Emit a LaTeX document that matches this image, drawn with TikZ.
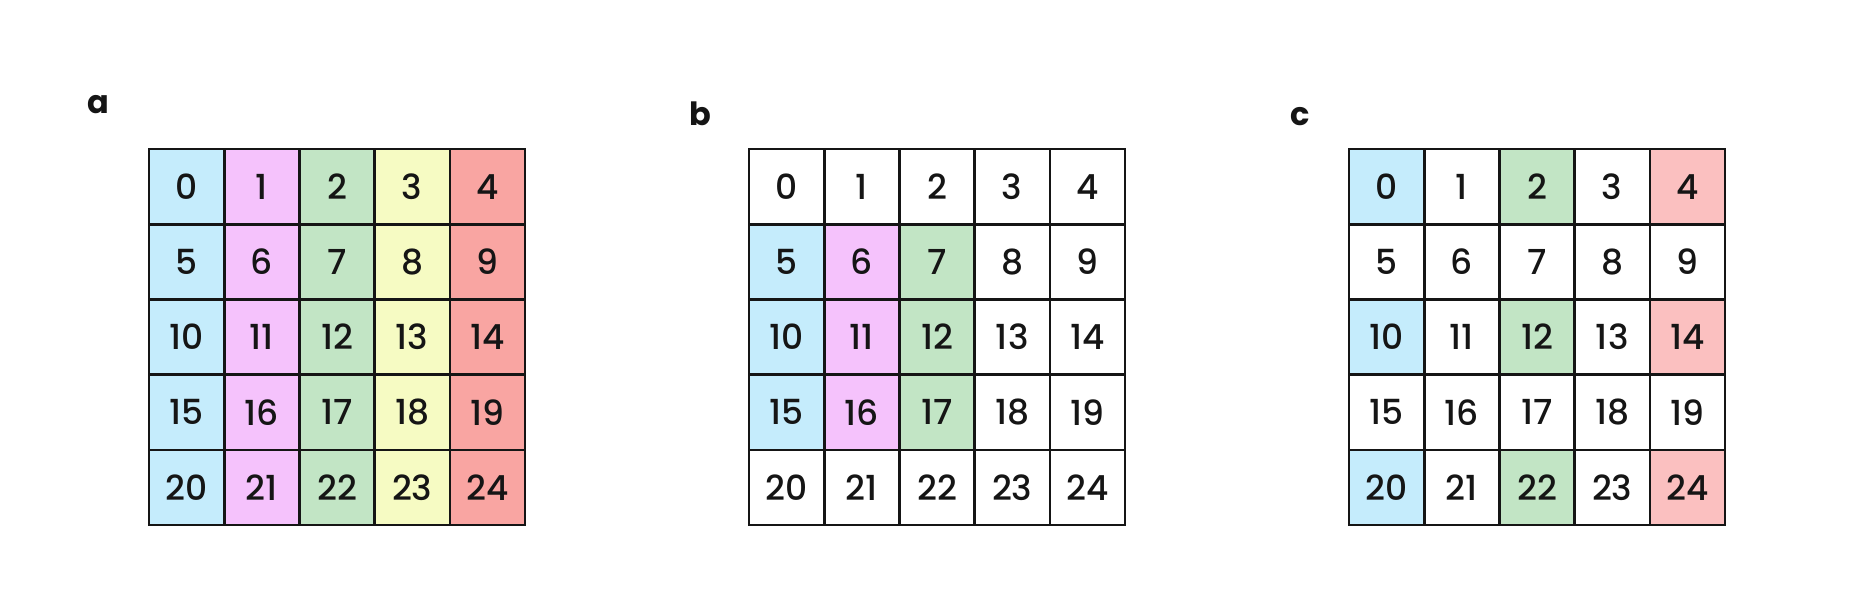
\documentclass[tikz,border=0pt]{standalone}
\usepackage{fontspec}
\setmainfont{Poppins}[UprightFont=* Medium, BoldFont=* Bold]
\definecolor{cblue}{HTML}{C5ECFC}
\definecolor{cpink}{HTML}{F5C2FC}
\definecolor{cgreen}{HTML}{C2E5C5}
\definecolor{cyellow}{HTML}{F6FBC3}
\definecolor{cred}{HTML}{F9A5A2}
\definecolor{cred2}{HTML}{FBC0C0}
\definecolor{ink}{HTML}{151515}
\begin{document}
\begin{tikzpicture}[x=1pt,y=-1pt,
  cell/.style={draw=ink, line width=2.6pt, minimum size=75.2pt, inner sep=0pt,
    font=\fontsize{34.5}{34.5}\selectfont, text=ink, anchor=center},
  lab/.style={font=\fontsize{32}{32}\selectfont\bfseries, text=ink, anchor=base}]
\useasboundingbox (0,0) rectangle (1875,605);
\foreach \row in {0,...,4}{
  \foreach \col in {0,...,4}{
    \pgfmathtruncatemacro\n{5*\row+\col}
    \edef\fa{\ifcase\col cblue\or cpink\or cgreen\or cyellow\or cred\fi}
    \edef\fb{\ifnum\row>0 \ifnum\row<4 \ifnum\col<3 \fa\else white\fi\else white\fi\else white\fi}
    \edef\fc{\ifodd\row white\else\ifcase\col cblue\or white\or cgreen\or white\or cred2\fi\fi}
    \node[cell, fill=\fa] (a\n) at ({149+75.2*(\col+0.5)}, {149+75.2*(\row+0.5)}) {\n};
    \node[cell, fill=\fb] (b\n) at ({749+75.2*(\col+0.5)}, {149+75.2*(\row+0.5)}) {\n};
    \node[cell, fill=\fc] (c\n) at ({1349+75.2*(\col+0.5)}, {149+75.2*(\row+0.5)}) {\n};
  }
}
\node[lab] (la) at (98,113) {a};
\node[lab] (lb) at (700,125) {b};
\node[lab] (lc) at (1300,125) {c};
\end{tikzpicture}
\end{document}
